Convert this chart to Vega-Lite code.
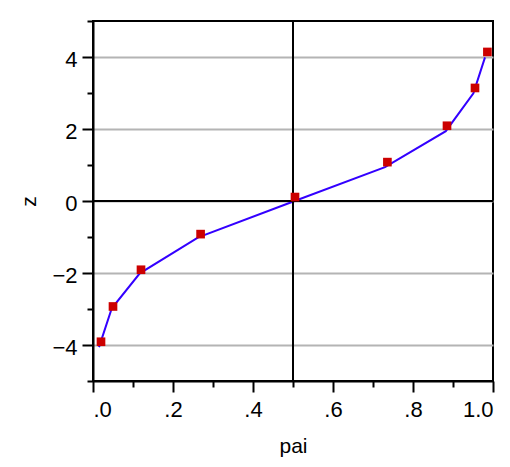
{
  "$schema": "https://vega.github.io/schema/vega-lite/v6.json",
  "width": 400,
  "height": 360,
  "autosize": {"type": "none"},
  "padding": {"left": 93, "top": 21, "right": 17, "bottom": 86},
  "background": "white",
  "config": {
    "font": "Liberation Sans",
    "view": {"stroke": "black", "strokeWidth": 2},
    "axis": {
      "domainColor": "black",
      "domainWidth": 2,
      "tickColor": "black",
      "tickWidth": 2,
      "labelColor": "black",
      "titleFontWeight": "normal",
      "titleColor": "black"
    }
  },
  "datasets": {
    "obs": [
      {"pai": 0.020, "z": -3.91},
      {"pai": 0.050, "z": -2.93},
      {"pai": 0.120, "z": -1.91},
      {"pai": 0.269, "z": -0.92},
      {"pai": 0.505, "z": 0.11},
      {"pai": 0.736, "z": 1.08},
      {"pai": 0.885, "z": 2.09},
      {"pai": 0.955, "z": 3.14},
      {"pai": 0.986, "z": 4.14}
    ],
    "fit": [
      {"pai": 0.015, "z": -4.06},
      {"pai": 0.047, "z": -2.98},
      {"pai": 0.117, "z": -2.01},
      {"pai": 0.263, "z": -1.01},
      {"pai": 0.499, "z": -0.02},
      {"pai": 0.730, "z": 0.94},
      {"pai": 0.882, "z": 1.94},
      {"pai": 0.951, "z": 2.99},
      {"pai": 0.980, "z": 3.99}
    ],
    "refx": [{"pai": 0.5}],
    "refy": [{"z": 0}]
  },
  "resolve": {"axis": {"x": "independent", "y": "independent"}},
  "layer": [
    {
      "data": {"name": "fit"},
      "mark": {"type": "line", "color": "#3300ff", "strokeWidth": 2},
      "encoding": {
        "x": {
          "field": "pai", "type": "quantitative",
          "scale": {"domain": [0, 1], "nice": false, "zero": false},
          "axis": {
            "orient": "bottom",
            "values": [0, 0.2, 0.4, 0.6, 0.8, 1],
            "labelExpr": "datum.value == 1 ? '1.0' : replace(format(datum.value, '.1f'), '0.', '.')",
            "labelFont": "Liberation Sans",
            "labelFontSize": 22,
            "tickSize": 11,
            "labelPadding": 7,
            "grid": false,
            "title": "pai",
            "titleFont": "Liberation Sans",
            "titleFontSize": 21,
            "titlePadding": 15
          }
        },
        "y": {
          "field": "z", "type": "quantitative",
          "scale": {"domain": [-5, 5], "nice": false, "zero": false},
          "axis": {
            "orient": "left",
            "values": [-4, -2, 0, 2, 4],
            "labelFont": "Liberation Sans",
            "labelFontSize": 22,
            "labelOffset": 2,
            "tickSize": 11,
            "labelPadding": 5,
            "grid": true,
            "gridColor": "#b4b4b4",
            "gridWidth": 2,
            "gridOpacity": 1,
            "title": "z",
            "titleFont": "Liberation Sans",
            "titleFontSize": 21,
            "titlePadding": 12
          }
        },
        "order": {"field": "pai", "type": "quantitative"}
      }
    },
    {
      "data": {"name": "refx"},
      "mark": {"type": "rule", "color": "black", "strokeWidth": 2},
      "encoding": {
        "x": {
          "field": "pai", "type": "quantitative",
          "scale": {"domain": [0, 1], "nice": false, "zero": false},
          "axis": {
            "orient": "bottom",
            "values": [0.1, 0.3, 0.5, 0.7, 0.9],
            "labels": false, "title": null, "grid": false, "domain": false,
            "tickSize": 6
          }
        }
      }
    },
    {
      "data": {"name": "refy"},
      "mark": {"type": "rule", "color": "black", "strokeWidth": 2},
      "encoding": {
        "y": {
          "field": "z", "type": "quantitative",
          "scale": {"domain": [-5, 5], "nice": false, "zero": false},
          "axis": {
            "orient": "left",
            "values": [-5, -3, -1, 1, 3, 5],
            "labels": false, "title": null, "grid": false, "domain": false,
            "tickSize": 6
          }
        }
      }
    },
    {
      "data": {"name": "obs"},
      "mark": {"type": "point", "shape": "square", "filled": true, "color": "#cc0000", "size": 75, "opacity": 1},
      "encoding": {
        "x": {"field": "pai", "type": "quantitative", "scale": {"domain": [0, 1], "nice": false, "zero": false}, "axis": null},
        "y": {"field": "z", "type": "quantitative", "scale": {"domain": [-5, 5], "nice": false, "zero": false}, "axis": null}
      }
    }
  ]
}
